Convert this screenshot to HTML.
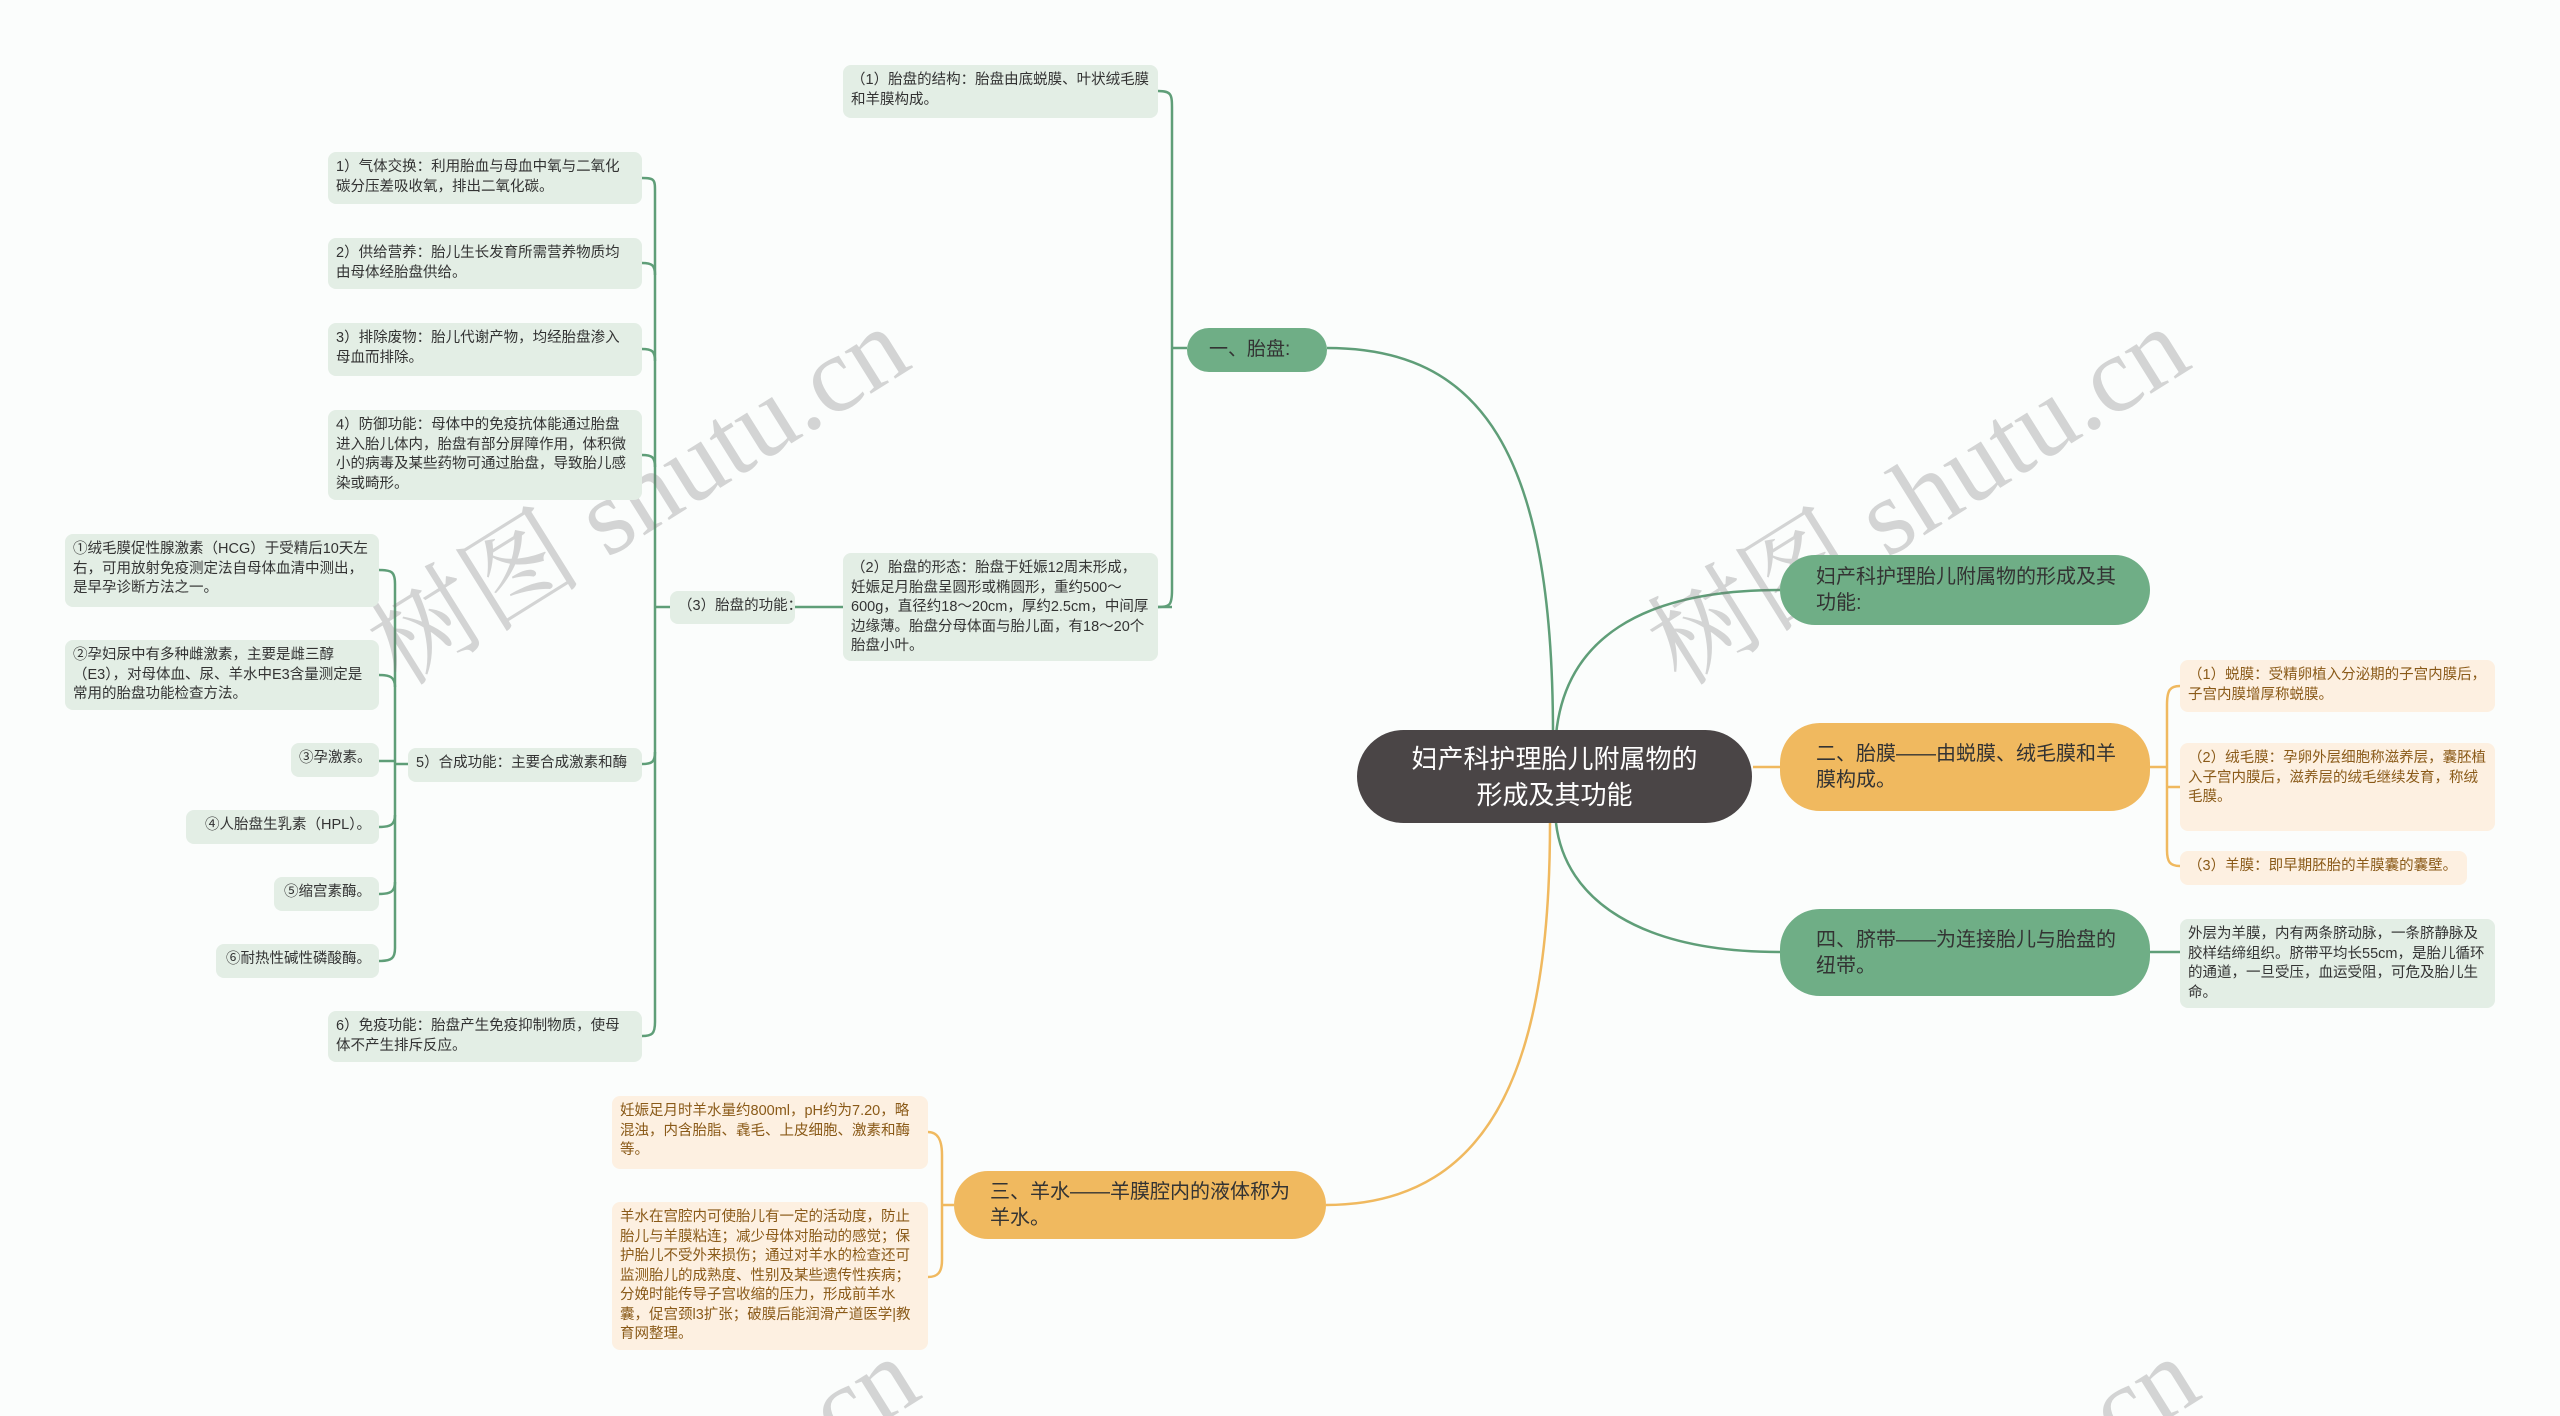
<!DOCTYPE html>
<html><head><meta charset="utf-8">
<style>
html,body{margin:0;padding:0;width:2560px;height:1416px;overflow:hidden;}
body{background:#fbfdfc;position:relative;font-family:"Liberation Sans","Noto Sans CJK SC",sans-serif;}
.clip{position:absolute;left:0;top:0;width:2560px;height:1416px;overflow:hidden;}
.n{position:absolute;box-sizing:border-box;border-radius:8px;font-size:14.5px;line-height:19.5px;padding:6px 8px;color:#333;}
.g{background:#e3eee5;}
.o{background:#fdf0e1;color:#8a5a18;}
.nw{white-space:nowrap;}
.m{position:absolute;box-sizing:border-box;display:flex;align-items:center;font-size:20px;line-height:26px;color:#333;padding:0 30px 0 36px;border-radius:40px;}
.mg{background:#6fae86;}
.mo{background:#f0b95f;}
.wm{position:absolute;font-family:"Liberation Serif","Noto Serif CJK SC",serif;font-size:108px;color:rgba(120,120,120,0.3);transform:rotate(-32deg);white-space:nowrap;transform-origin:center;}
svg{position:absolute;left:0;top:0;}
</style></head><body>
<div class="clip">
<svg width="2560" height="1416" fill="none" stroke-width="2.5">
<g stroke="#5f9e78">
<path d="M1553,735 C1553,450 1480,348 1327,348"/>
<path d="M1556,735 C1565,640 1640,590 1780,590"/>
<path d="M1556,823 C1565,900 1640,952 1780,952"/>
<path d="M1187,348 L1172,348"/>
<path d="M1158,91 C1172,91 1172,95 1172,110 L1172,590 C1172,605 1170,607 1158,607"/>
<path d="M1172,607 L795,607"/>
<path d="M670,607 L655,607"/>
<path d="M642,178 C655,178 655,180 655,192 L655,1022 C655,1034 652,1036 642,1036"/>
<path d="M642,263 C652,263 655,265 655,275"/>
<path d="M642,349 C652,349 655,351 655,361"/>
<path d="M642,455 C652,455 655,457 655,467"/>
<path d="M642,764 C652,764 655,762 655,752"/>
<path d="M408,764 L395,764"/>
<path d="M379,570 C392,570 395,572 395,584 L395,948 C395,958 392,961 379,961"/>
<path d="M379,675 C390,675 395,677 395,687"/>
<path d="M379,761 L395,761"/>
<path d="M379,827 C390,827 395,825 395,815"/>
<path d="M379,894 C390,894 395,892 395,882"/>
<path d="M2150,952 L2180,952"/>
</g>
<g stroke="#f0b95f">
<path d="M1550,823 C1550,1050 1500,1205 1326,1205"/>
<path d="M1753,767 L1780,767"/>
<path d="M2150,767 L2167,767"/>
<path d="M2180,686 C2170,686 2167,690 2167,705 L2167,850 C2167,862 2170,866 2180,866"/>
<path d="M2167,787 L2180,787"/>
<path d="M954,1205 L942,1205"/>
<path d="M928,1132 C938,1132 942,1140 942,1155 L942,1260 C942,1272 938,1277 928,1277"/>
</g>
</svg>

<div class="wm" style="left:330px;top:410px;">树图 shutu.cn</div>
<div class="wm" style="left:1610px;top:410px;">树图 shutu.cn</div>
<div class="wm" style="left:340px;top:1440px;">树图 shutu.cn</div>
<div class="wm" style="left:1620px;top:1440px;">树图 shutu.cn</div>
</div>

<div style="position:absolute;left:1357px;top:730px;width:395px;height:93px;background:#4a4546;border-radius:47px;color:#fff;font-size:26px;line-height:36px;text-align:center;display:flex;align-items:center;justify-content:center;">妇产科护理胎儿附属物的<br>形成及其功能</div>

<div class="m mg" style="left:1187px;top:328px;width:140px;height:44px;padding:0 22px;font-size:19px;">一、胎盘:</div>
<div class="m mg" style="left:1780px;top:555px;width:370px;height:70px;">妇产科护理胎儿附属物的形成及其功能:</div>
<div class="m mo" style="left:1780px;top:723px;width:370px;height:88px;">二、胎膜——由蜕膜、绒毛膜和羊膜构成。</div>
<div class="m mg" style="left:1780px;top:909px;width:370px;height:87px;">四、脐带——为连接胎儿与胎盘的纽带。</div>
<div class="m mo" style="left:954px;top:1171px;width:372px;height:68px;">三、羊水——羊膜腔内的液体称为羊水。</div>

<div class="n g" style="left:843px;top:65px;width:315px;height:53px;">（1）胎盘的结构：胎盘由底蜕膜、叶状绒毛膜和羊膜构成。</div>
<div class="n g" style="left:843px;top:553px;width:315px;height:108px;">（2）胎盘的形态：胎盘于妊娠12周末形成，妊娠足月胎盘呈圆形或椭圆形，重约500～600g，直径约18～20cm，厚约2.5cm，中间厚边缘薄。胎盘分母体面与胎儿面，有18～20个胎盘小叶。</div>
<div class="n g nw" style="left:670px;top:591px;width:125px;height:33px;">（3）胎盘的功能：</div>

<div class="n g" style="left:328px;top:152px;width:314px;height:52px;">1）气体交换：利用胎血与母血中氧与二氧化碳分压差吸收氧，排出二氧化碳。</div>
<div class="n g" style="left:328px;top:238px;width:314px;height:51px;">2）供给营养：胎儿生长发育所需营养物质均由母体经胎盘供给。</div>
<div class="n g" style="left:328px;top:323px;width:314px;height:53px;">3）排除废物：胎儿代谢产物，均经胎盘渗入母血而排除。</div>
<div class="n g" style="left:328px;top:410px;width:314px;height:90px;">4）防御功能：母体中的免疫抗体能通过胎盘进入胎儿体内，胎盘有部分屏障作用，体积微小的病毒及某些药物可通过胎盘，导致胎儿感染或畸形。</div>
<div class="n g nw" style="left:408px;top:748px;width:234px;height:34px;">5）合成功能：主要合成激素和酶</div>
<div class="n g" style="left:328px;top:1011px;width:314px;height:51px;">6）免疫功能：胎盘产生免疫抑制物质，使母体不产生排斥反应。</div>

<div class="n g" style="left:65px;top:534px;width:314px;height:73px;">①绒毛膜促性腺激素（HCG）于受精后10天左右，可用放射免疫测定法自母体血清中测出，是早孕诊断方法之一。</div>
<div class="n g" style="left:65px;top:640px;width:314px;height:70px;">②孕妇尿中有多种雌激素，主要是雌三醇（E3），对母体血、尿、羊水中E3含量测定是常用的胎盘功能检查方法。</div>
<div class="n g nw" style="left:291px;top:743px;width:88px;height:34px;text-align:right;">③孕激素。</div>
<div class="n g nw" style="left:186px;top:810px;width:193px;height:34px;text-align:right;">④人胎盘生乳素（HPL）。</div>
<div class="n g nw" style="left:274px;top:877px;width:105px;height:34px;text-align:right;">⑤缩宫素酶。</div>
<div class="n g nw" style="left:216px;top:944px;width:163px;height:34px;text-align:right;">⑥耐热性碱性磷酸酶。</div>

<div class="n o" style="left:2180px;top:660px;width:315px;height:52px;">（1）蜕膜：受精卵植入分泌期的子宫内膜后，子宫内膜增厚称蜕膜。</div>
<div class="n o" style="left:2180px;top:743px;width:315px;height:88px;">（2）绒毛膜：孕卵外层细胞称滋养层，囊胚植入子宫内膜后，滋养层的绒毛继续发育，称绒毛膜。</div>
<div class="n o nw" style="left:2180px;top:851px;width:287px;height:34px;">（3）羊膜：即早期胚胎的羊膜囊的囊壁。</div>
<div class="n g" style="left:2180px;top:919px;width:315px;height:89px;">外层为羊膜，内有两条脐动脉，一条脐静脉及胶样结缔组织。脐带平均长55cm，是胎儿循环的通道，一旦受压，血运受阻，可危及胎儿生命。</div>

<div class="n o" style="left:612px;top:1096px;width:316px;height:73px;">妊娠足月时羊水量约800ml，pH约为7.20，略混浊，内含胎脂、毳毛、上皮细胞、激素和酶等。</div>
<div class="n o" style="left:612px;top:1202px;width:316px;height:148px;">羊水在宫腔内可使胎儿有一定的活动度，防止胎儿与羊膜粘连；减少母体对胎动的感觉；保护胎儿不受外来损伤；通过对羊水的检查还可监测胎儿的成熟度、性别及某些遗传性疾病；分娩时能传导子宫收缩的压力，形成前羊水囊，促宫颈l3扩张；破膜后能润滑产道医学|教育网整理。</div>
</body></html>
